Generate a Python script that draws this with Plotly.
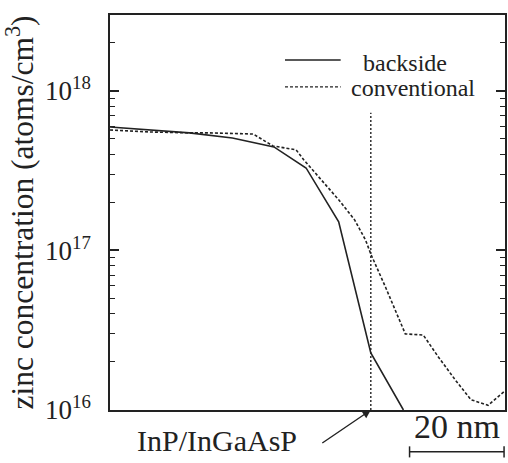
import plotly.graph_objects as go

# depth (nm) and zinc concentration (atoms/cm^3)
backside_x = [0, 8.4, 16.8, 25.9, 34.7, 41.5, 48.4, 55.2, 62.1]
backside_y = [5.94e17, 5.69e17, 5.46e17, 5.07e17, 4.46e17, 3.29e17, 1.51e17, 2.28e16, 1.0e16]

conv_x = [0, 8.4, 16.8, 21.0, 30.3, 34.5, 39.4, 41.0, 48.4, 51.8, 54.1, 55.2, 58.3, 62.5, 66.3, 69.5, 73.1, 76.4, 80.0, 83.6]
conv_y = [5.69e17, 5.53e17, 5.46e17, 5.46e17, 5.37e17, 4.52e17, 4.27e17, 3.7e17, 2.08e17, 1.55e17, 1.16e17, 9.5e16,
          5.9e16, 3.0e16, 2.95e16, 2.15e16, 1.54e16, 1.16e16, 1.07e16, 1.32e16]

interface_x = 55.2
interface_top = 7.3e17
scale_nm = 20
scale_start = 63.4

y_ticks = [1e16, 1e17, 1e18]
y_ticktext = ["10<sup>16</sup>", "10<sup>17</sup>", "10<sup>18</sup>"]
minor_vals = [m * d for d in (1e16, 1e17, 1e18) for m in range(2, 10)]

INK = "#222222"
FONT = "Liberation Serif, Times New Roman, serif"

fig = go.Figure()
fig.add_trace(go.Scatter(x=backside_x, y=backside_y, mode="lines",
                         line=dict(color=INK, width=1.6), name="backside", showlegend=False))
fig.add_trace(go.Scatter(x=conv_x, y=conv_y, mode="lines",
                         line=dict(color=INK, width=1.6, dash="3px,2px"), name="conventional", showlegend=False))
fig.add_trace(go.Scatter(x=[interface_x, interface_x], y=[1e16, interface_top], mode="lines",
                         line=dict(color=INK, width=1.4, dash="2px,2px"), showlegend=False))

fig.update_layout(
    width=508, height=463,
    margin=dict(l=110, r=1, t=15, b=53),
    paper_bgcolor="white", plot_bgcolor="white",
    font=dict(family=FONT, color=INK),
    xaxis=dict(range=[0, 83.6], showticklabels=False, ticks="", showgrid=False, zeroline=False,
               showline=True, linecolor=INK, linewidth=1.5, mirror=True),
    yaxis=dict(type="log", range=[16, 18.476], showgrid=False, zeroline=False,
               showline=True, linecolor=INK, linewidth=1.5, mirror="ticks",
               ticks="inside", ticklen=9, tickwidth=1.5, tickcolor=INK,
               tickvals=y_ticks, ticktext=y_ticktext, tickfont=dict(size=27, family=FONT, color=INK),
               ticklabelstandoff=12,
               minor=dict(ticks="inside", ticklen=5, tickwidth=1.2, tickcolor=INK, tickvals=minor_vals),
               title=dict(text="zinc concentration (atoms/cm<sup>3</sup>)", font=dict(size=31.5, family=FONT, color=INK),
                          standoff=6)),
)

# legend drawn manually
fig.add_shape(type="line", xref="paper", yref="paper", x0=0.443, x1=0.584, y0=0.886, y1=0.886,
              line=dict(color=INK, width=1.6))
fig.add_shape(type="line", xref="paper", yref="paper", x0=0.443, x1=0.584, y0=0.818, y1=0.818,
              line=dict(color=INK, width=1.4, dash="3px,2px"))
fig.add_annotation(xref="paper", yref="paper", x=0.635, y=0.878, text="backside", showarrow=False,
                   xanchor="left", yanchor="middle", font=dict(size=24, family=FONT, color=INK))
fig.add_annotation(xref="paper", yref="paper", x=0.605, y=0.815, text="conventional", showarrow=False,
                   xanchor="left", yanchor="middle", font=dict(size=24, family=FONT, color=INK))

# interface label with arrow
fig.add_annotation(x=interface_x, y=16, xref="x", yref="y", text="", showarrow=True,
                   ax=-50, ay=34, arrowhead=2, arrowsize=1.2, arrowwidth=1.4, arrowcolor=INK)
fig.add_annotation(xref="paper", yref="paper", x=0.272, y=-0.076, text="InP/InGaAsP", showarrow=False,
                   xanchor="center", yanchor="middle", font=dict(size=30, family=FONT, color=INK))

# scale bar
fig.add_shape(type="line", xref="x", yref="paper", x0=scale_start, x1=scale_start + scale_nm, y0=-0.106, y1=-0.106,
              line=dict(color=INK, width=1.5))
for xx in (scale_start, scale_start + scale_nm):
    fig.add_shape(type="line", xref="x", yref="paper", x0=xx, x1=xx, y0=-0.092, y1=-0.12,
                  line=dict(color=INK, width=1.5))
fig.add_annotation(xref="x", yref="paper", x=scale_start + scale_nm / 2, y=-0.043, text="20 nm",
                   showarrow=False, xanchor="center", yanchor="middle", font=dict(size=34, family=FONT, color=INK))

fig.write_html("out.html", config={"displayModeBar": False},
               post_script="document.body.style.margin='0';document.body.style.overflow='hidden';")
